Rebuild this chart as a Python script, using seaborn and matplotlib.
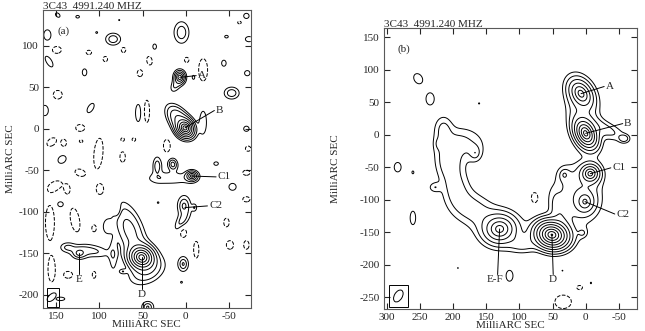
import numpy as np
import matplotlib
matplotlib.use("Agg")
import matplotlib.pyplot as plt
from matplotlib.patches import Ellipse, Rectangle
import seaborn as sns

# ---- panel (a): compact components (x, y in mas) ----
# columns: x, y, peak, major scale, minor scale, position angle (deg, data frame)
a_core_x = [1, 7, -7, 15, 33, 2, 51, 123, 3, 44]
a_core_y = [1, 62, -57, -43, -45, -93, -155, -150, -163, -215]
a_core_amp = [300, 40, 30, 9, 5, 7, 300, 8, 6, 6]
a_core_maj = [3.0, 2.8, 2.6, 3.6, 6.8, 6.5, 4.0, 4.5, 5, 3.9]
a_core_min = [2.5, 2.2, 2.3, 2.7, 3.1, 4.0, 3.6, 3.5, 3.4, 3.9]
a_core_pa = [60, 90, 0, 80, 90, 90, 40, 0, 90, 0]

# diffuse emission
a_diff_x = [8, 12, -20, -9, 20, 5, -10, 65, 45, 108, 137]
a_diff_y = [11, 52, 8, 62, -60, -112, -95, -122, -172, -147, -143]
a_diff_amp = [8, 2, 1.8, 1.7, 1.8, 2.2, 1.7, 5, 3, 2.2, 2]
a_diff_maj = [11, 6, 12, 2.5, 18, 9, 3, 20, 14, 14, 6]
a_diff_min = [6, 3.5, 3.5, 1.5, 5, 4, 2, 9, 9, 5, 4]
a_diff_pa = [55, -63, 90, 90, 0, -60, 90, 70, -30, 10, 0]

# noise features (solid = positive, dashed = negative)
a_noise_x = [148, 125, 103, 84, 77, 5, 160, 149, 112, 93, 72, 36, 158, 117, 53, 42, -1, -20, -44, -47,
             -62, -70, -73, -53, 148, 163, 110, 55, 45, 122, 155, 141, 121, 101, 99, 143, 73, 60, 73, 22,
             -35, -70, -72, -71, 122, 151, 137, 145, 157, 128, 106, 91, 79, 84, 73, 155, 136, 106, 32, 3,
             -12, -47, -51, -70, -54, -70, -70, 5, 145]
a_noise_y = [137, 135, 116, 108, 131, 116, 113, 95, 92, 84, 95, 99, 81, 68, 67, 82, 83, 71, 79, 111,
             128, 136, 108, 43, 41, 22, 25, 19, 21, 1, -16, -17, -15, -30, -73, -37, -13, -13, -34, -21,
             -42, 0, -24, 67, -53, -69, -73, -91, -113, -110, -120, -118, -98, -152, -172, -170, -176, -176, -89, -125,
             -146, -113, -140, -140, -70, -85, -53, -185, -205]
a_noise_amp = [1.7, 1.7, 1.15, 2.8, 1.1, 2.8, 1.7, -1.7, -1.7, -1.7, -1.7, 1.7, 1.7, 1.7, -1.7, -1.7, -1.7, -1.7, 1.7, 1.7,
               -1.7, 1.7, 1.7, 2.8, -1.7, 1.7, 1.7, 1.7, -1.7, -1.7, -1.7, -1.7, -1.7, -1.7, -1.7, 1.7, -1.7, -1.7, -1.7, -1.7,
               1.7, 1.7, -1.7, 1.7, -1.7, -1.7, -1.7, 1.7, -1.7, -1.7, -1.7, 1.7, -1.7, 1.7, 1.7, -1.7, -1.7, -1.7, 1.2, -1.7,
               -1.7, -1.7, -1.7, -1.7, 1.7, -1.7, -1.7, 1.2, 1.7]
a_noise_maj = [3, 2, 2, 6, 1.5, 9, 6, 5, 3, 3, 3, 3, 7, 4, 4, 5, 3, 13, 3.5, 2,
               2, 3, 4, 6, 5, 6, 6, 10, 13, 5, 6, 4, 2, 18, 6, 5, 2, 2, 6, 8,
               2.5, 3, 3, 3, 6, 8, 5, 3.5, 20, 14, 4, 7, 6, 15, 3, 14, 5, 4, 1.5, 6,
               10, 5, 5, 5, 4, 4, 4, 1.5, 5]
a_noise_min = [2, 1.5, 2, 5, 1.5, 6, 4, 4, 2.5, 2.5, 2.5, 2, 3, 2.5, 3, 3, 2.5, 5, 2.5, 1.5,
               1.5, 3, 3, 5, 5, 4, 3, 3, 3, 4, 4, 3, 1.5, 5, 4, 4, 2, 2, 3, 4,
               2, 3, 3, 3, 4, 5, 3, 3, 5, 5, 2.5, 4, 3, 3.5, 2, 4, 4, 2, 1.5, 4,
               3, 3, 4, 3, 4, 3, 3, 1.5, 2]
a_noise_pa = [45, 0, 0, 0, 0, 90, 90, 0, 0, 90, 90, 90, 60, 90, 90, 80, 90, 90, 90, 0,
              0, 0, 0, 0, 0, 90, -60, 90, 90, 0, -40, 90, 0, 95, 90, -45, 0, 0, 90, 90,
              0, 0, 0, 0, 20, -30, 90, 0, 90, 80, 90, 90, 90, 90, 0, 90, 0, 90, 0, 90,
              90, 90, 90, 90, 0, 0, 0, 0, 0]

a_labels = ["A", "B", "C1", "C2", "D", "E"]
a_peak_x = [7, 1, -7, 1, 51, 123]
a_peak_y = [62, 1, -57, -95, -155, -150]
a_text_x = [-14, -35, -37, -27, 51, 123]
a_text_y = [64, 22, -58, -93, -200, -182]

# ---- panel (b) ----
b_core_x = [7, 0, -7, 1, 32, 51, 130, 5, 167, 222]
b_core_y = [63, 2, -60, -103, -62, -154, -145, -151, -28, -14]
b_core_amp = [64, 256, 64, 24, 5, 700, 64, 3, 4, 2.5]
b_core_maj = [8, 6.5, 5, 7, 6, 6.1, 9, 5, 8, 6]
b_core_min = [5.5, 4.2, 5, 6, 5, 5.0, 8, 5, 6, 4]
b_core_pa = [60, 65, 0, 90, 90, 15, 0, 0, 90, 90]

b_diff_x = [-30, -58, 12, 170, 197, 207, 190, 215, 95, 40, 5]
b_diff_y = [8, -6, -92, -115, -80, -40, -12, 10, -168, -118, 34]
b_diff_amp = [2.5, 2.5, 3, 2.6, 2.6, 2.6, 2.3, 2.1, 2.5, 2.5, 2.5]
b_diff_maj = [22, 5, 28, 22, 24, 17, 22, 13, 14, 20, 30]
b_diff_min = [8, 4, 22, 16, 14, 13, 16, 9, 9, 8, 15]
b_diff_pa = [25, 0, 90, 30, 80, 90, 0, 90, 0, 75, 80]

b_noise_x = [253, 235, 284, 261, 161, 228, 261, 115, 77, 34, 9, -8, 193, 35]
b_noise_y = [86, 55, -50, -58, 48, -81, -128, -217, -97, -257, -235, -228, -205, -209]
b_noise_amp = [1.7, 1.7, 1.7, 1.3, 1.2, 1.7, 1.7, 1.7, -1.7, -1.7, -1.7, 1.2, 1.1, 1.1]
b_noise_maj = [8, 9, 7, 3, 1.5, 6, 10, 8, 8, 12, 4, 2, 1.5, 1.5]
b_noise_min = [6, 6, 5, 2, 1.5, 5, 4, 5, 5, 10, 3, 1.5, 1.5, 1.5]
b_noise_pa = [60, 90, 90, 90, 0, 0, 90, 90, 90, 0, 0, 90, 0, 0]

b_labels = ["A", "B", "C1", "C2", "D", "E-F"]
b_peak_x = [7, 0, -7, 1, 51, 130]
b_peak_y = [63, 2, -60, -103, -154, -145]
b_text_x = [-30, -58, -40, -46, 49, 137]
b_text_y = [74, 17, -51, -122, -222, -222]

levels = [-1, 1, 2, 4, 8, 16, 32, 64, 128, 256, 512]
title = "3C43  4991.240 MHZ"


def field(X, Y, xs, ys, amps, majs, mins, pas, kind):
    Z = np.zeros_like(X)
    for x0, y0, a, sa, sb, pa in zip(xs, ys, amps, majs, mins, pas):
        t = np.deg2rad(pa)
        dx, dy = X - x0, Y - y0
        u = dx * np.cos(t) + dy * np.sin(t)
        v = -dx * np.sin(t) + dy * np.cos(t)
        r2 = u ** 2 / sa ** 2 + v ** 2 / sb ** 2
        if kind == "exp":
            Z += a * np.exp(-np.sqrt(r2 + 0.05))
        else:
            Z += a * np.exp(-0.5 * r2)
    return Z


def draw_panel(ax, xlim, ylim, cores, diffuse, noise, labels, beam, tag, tag_xy):
    xs = np.linspace(xlim[1], xlim[0], 500)
    ys = np.linspace(ylim[0], ylim[1], 600)
    X, Y = np.meshgrid(xs, ys)
    Z = (field(X, Y, *cores, "exp") + field(X, Y, *diffuse, "gauss")
         + field(X, Y, *noise, "gauss"))
    ax.contour(X, Y, Z, levels=levels, colors="k", linewidths=0.7,
               negative_linestyles="dashed")
    names, px, py, tx, ty = labels
    for n, x0, y0, x1, y1 in zip(names, px, py, tx, ty):
        if n in ("D", "E", "E-F"):
            ax.plot([x0, x1 if n != "E-F" else x1 - 4], [y0, y1 + 7], color="k", lw=0.7)
            ax.text(x1, y1, n, ha="center", va="center", fontsize=8)
        else:
            ax.plot([x0, x1 + 2], [y0, y1], color="k", lw=0.7)
            ax.text(x1, y1, n, ha="left", va="center", fontsize=8)
    bx, by, bw, bh, bpa, box = beam
    ax.add_patch(Ellipse((bx, by), bw, bh, angle=bpa, fill=False, color="k", lw=0.7))
    ax.add_patch(Rectangle((box[0], box[2]), box[1] - box[0], box[3] - box[2],
                           fill=False, color="k", lw=0.7))
    ax.text(tag_xy[0], tag_xy[1], tag, fontsize=8, ha="left", va="center")
    ax.set_xlim(xlim)
    ax.set_ylim(ylim)
    ax.tick_params(direction="in", top=True, right=True, length=4, labelsize=8, pad=3)
    for s in ax.spines.values():
        s.set_color("0.35")
        s.set_linewidth(0.8)
    ax.set_xlabel("MilliARC SEC", fontsize=8, labelpad=-1)
    ax.set_ylabel("MilliARC SEC", fontsize=8)
    ax.set_title(title, fontsize=8, loc="left", pad=1)


sns.set_style("ticks")
plt.rcParams["font.family"] = ["Liberation Serif", "DejaVu Serif"]
plt.rcParams["axes.unicode_minus"] = False

fig = plt.figure(figsize=(6.45, 3.31), dpi=100)
ax_a = fig.add_axes([0.0667, 0.0695, 0.322, 0.900])
ax_b = fig.add_axes([0.595, 0.0665, 0.392, 0.849])

draw_panel(ax_a, (165, -75), (-216, 143),
           (a_core_x, a_core_y, a_core_amp, a_core_maj, a_core_min, a_core_pa),
           (a_diff_x, a_diff_y, a_diff_amp, a_diff_maj, a_diff_min, a_diff_pa),
           (a_noise_x, a_noise_y, a_noise_amp, a_noise_maj, a_noise_min, a_noise_pa),
           (a_labels, a_peak_x, a_peak_y, a_text_x, a_text_y),
           (155, -203, 7, 13, 45, (160, 146, -215, -192)), "(a)", (148, 117))
ax_a.set_xticks([150, 100, 50, 0, -50])
ax_a.set_yticks([100, 50, 0, -50, -100, -150, -200])
ax_a.yaxis.set_label_coords(-0.135, 0.5)

draw_panel(ax_b, (305, -77), (-268, 164),
           (b_core_x, b_core_y, b_core_amp, b_core_maj, b_core_min, b_core_pa),
           (b_diff_x, b_diff_y, b_diff_amp, b_diff_maj, b_diff_min, b_diff_pa),
           (b_noise_x, b_noise_y, b_noise_amp, b_noise_maj, b_noise_min, b_noise_pa),
           (b_labels, b_peak_x, b_peak_y, b_text_x, b_text_y),
           (283, -248, 12, 20, 30, (297, 268, -265, -231)), "(b)", (285, 131))
ax_b.set_xticks([300, 250, 200, 150, 100, 50, 0, -50])
ax_b.set_yticks([150, 100, 50, 0, -50, -100, -150, -200, -250])
ax_b.yaxis.set_label_coords(-0.174, 0.5)

fig.savefig("out.png", dpi=100)
